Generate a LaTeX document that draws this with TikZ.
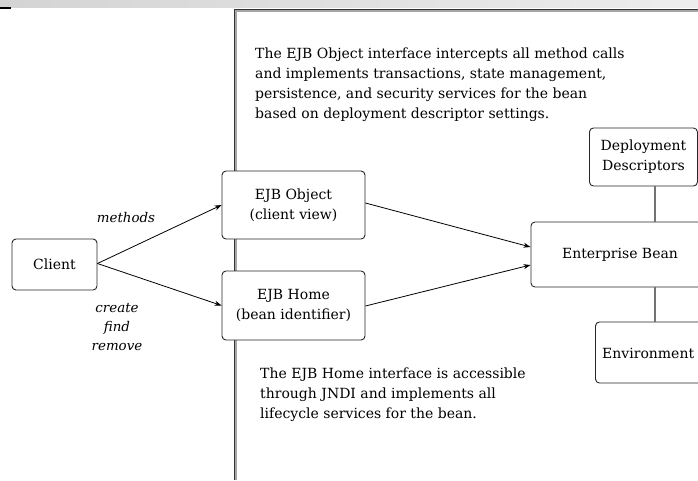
\documentclass[tikz,border=0pt]{standalone}
\usepackage{fontspec}
\setmainfont{DejaVu Serif}
\usetikzlibrary{arrows.meta,calc}
\begin{document}
\begin{tikzpicture}[x=1pt,y=-1pt,
  box/.style={draw=black!85,line width=0.9pt,rounded corners=4pt,fill=white,inner sep=0pt,align=center,font=\fontsize{14}{20}\selectfont},
  arr/.style={draw=black,line width=0.8pt,-{Stealth[length=7pt,width=5pt]}},
  link/.style={draw=black!55,line width=1.4pt},
  note/.style={anchor=north west,align=left,inner sep=0pt,font=\fontsize{14}{20}\selectfont},
  lbl/.style={inner sep=0pt,align=center,font=\itshape\fontsize{13.4}{19}\selectfont},
  frame/.style={draw=black!80,line width=1.3pt}]
\useasboundingbox (0,0) rectangle (698,480);
\clip (0,0) rectangle (698,480);
\shade[left color=black!17,right color=black!7] (0,0) rectangle (698,7.5);
\draw[line width=1.5pt] (0,8) -- (11,8);
% frame
\draw[draw=black!35,line width=3pt] (235.5,480) -- (235.5,10.5) -- (698,10.5);
\draw[frame] (234.5,480) -- (234.5,9.8) -- (698,9.8);
% nodes
\node[box,minimum width=85,minimum height=51] (cl) at (54.5,264.5) {Client};
\node[box,minimum width=143,minimum height=68] (obj) at (293.5,205) {EJB Object\\(client view)};
\node[box,minimum width=143,minimum height=69] (home) at (293.5,305.5) {EJB Home\\(bean identifier)};
\node[box,minimum width=180,minimum height=65,anchor=west] (eb) at (530.5,254.5) {};
\node[inner sep=0pt,font=\fontsize{14}{20}\selectfont] (ebt) at (620,255) {Enterprise Bean};
\node[box,minimum width=108,minimum height=58,anchor=west] (dd) at (589,157) {Deployment\\Descriptors};
\node[box,minimum width=120,minimum height=61,anchor=west] (env) at (595,352.5) {};
\node[inner sep=0pt,anchor=west,font=\fontsize{14}{20}\selectfont] (envt) at (602,353) {Environment};
% links
\draw[link] (655,186) -- (655,222);
\draw[link] (655,287) -- (655,322);
% arrows
\coordinate (clo) at ($(cl.east)+(0,-1)$);
\draw[arr] (clo) -- (obj.west);
\draw[arr] (clo) -- (home.west);
\draw[arr] ($(obj.east)+(0,-2)$) -- ($(eb.west)+(0,-7.5)$);
\draw[arr] ($(home.east)+(0,0.5)$) -- ($(eb.west)+(0,10.5)$);
% labels
\node[lbl] (m) at (126,217) {methods};
\node[lbl] (cfr) at (117,327) {create\\find\\remove};
% notes
\node[note] (n1) at (255,48) {The EJB Object interface intercepts all method calls\\and implements transactions, state management,\\persistence, and security services for the bean\\based on deployment descriptor settings.};
\node[note] (n2) at (260,368) {The EJB Home interface is accessible\\through JNDI and implements all\\lifecycle services for the bean.};
\end{tikzpicture}
\end{document}
